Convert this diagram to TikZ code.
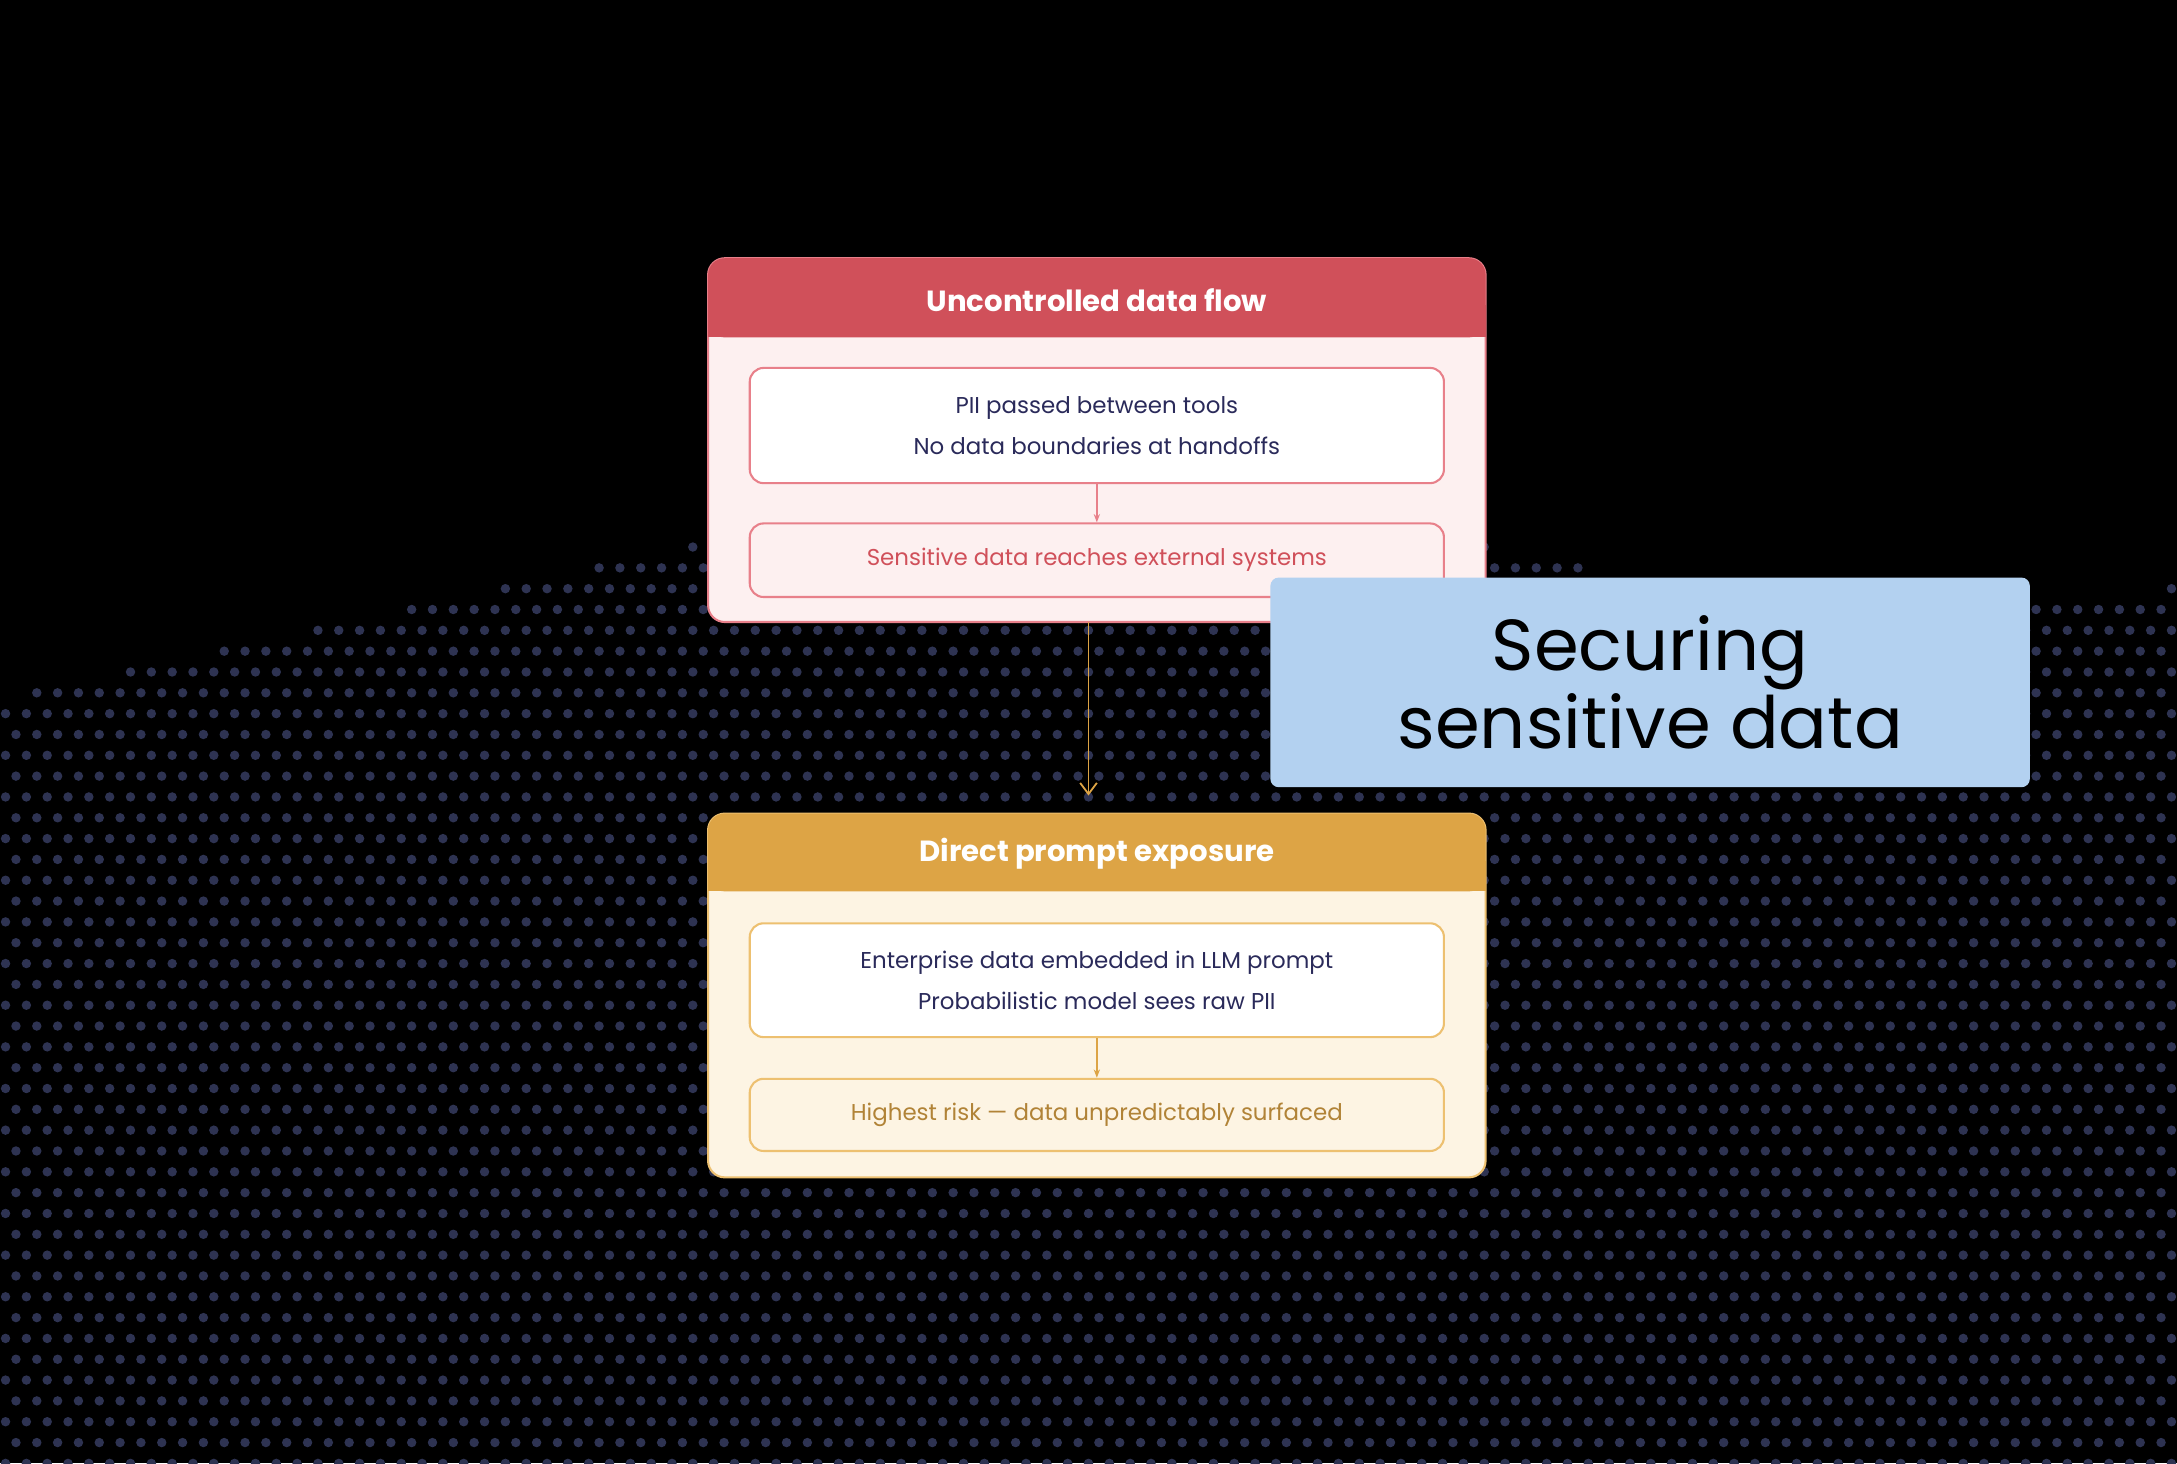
\documentclass[tikz,border=0pt]{standalone}
\usepackage{fontspec}
\setmainfont{Poppins}
\usetikzlibrary{arrows.meta}
\definecolor{bg}{HTML}{000000}
\definecolor{red1}{HTML}{D0505A}
\definecolor{redbody}{HTML}{FDF0F0}
\definecolor{redline}{HTML}{E8808A}
\definecolor{org}{HTML}{DDA445}
\definecolor{orgbody}{HTML}{FDF4E3}
\definecolor{orgline}{HTML}{EDC070}
\definecolor{navy}{HTML}{2A2A5A}
\definecolor{blueb}{HTML}{B3D1F0}
\definecolor{dotc}{HTML}{2E3352}
\tikzset{
  hdr/.style={font=\fontsize{21}{24}\selectfont\bfseries, text=white},
  body/.style={font=\fontsize{16.5}{30}\selectfont, text=navy, align=center},
}
\begin{document}
\begin{tikzpicture}[x=1pt,y=-1pt]
\fill[bg] (0,0) rectangle (1568,1054);
\useasboundingbox (0,0) rectangle (1568,1054);
% dotted background
\foreach \i in {0,...,104}{\foreach \j in {0,...,70}{
  \pgfmathsetmacro\xx{\i*15+4+mod(\j,2)*7.5}\pgfmathsetmacro\yy{\j*15+4}
  \pgfmathsetmacro\v{(\yy-330-0.22*abs(\xx-780)+0.25*max(\xx-1250,0)) }
  \ifdim \v pt>0pt \fill[dotc] (\xx,\yy) circle (3.4);\fi
}}
% top card
\fill[redbody,draw=redline,line width=1.5,rounded corners=12] (510,186) rectangle (1070,448);
\fill[red1,rounded corners=12] (510,186) rectangle (1070,243);
\fill[red1] (510,220) rectangle (1070,243);
\node[hdr] (h1) at (790,216) {Uncontrolled data flow};
\node[draw=redline,fill=white,line width=1.5,rounded corners=10,minimum width=500,minimum height=83,body] (a1) at (790,306.5) {PII passed between tools\\No data boundaries at handoffs};
\node[draw=redline,fill=redbody,line width=1.5,rounded corners=10,minimum width=500,minimum height=53,body,text=red1] (a2) at (790,403.5) {Sensitive data reaches external systems};
\draw[redline,line width=1.2,-{Stealth[length=6,open]}] (a1.south) -- (a2.north);
% bottom card
\fill[orgbody,draw=orgline,line width=1.5,rounded corners=12] (510,586) rectangle (1070,848);
\fill[org,rounded corners=12] (510,586) rectangle (1070,642);
\fill[org] (510,620) rectangle (1070,642);
\node[hdr] (h2) at (790,615) {Direct prompt exposure};
\node[draw=orgline,fill=white,line width=1.5,rounded corners=10,minimum width=500,minimum height=82,body] (b1) at (790,706) {Enterprise data embedded in LLM prompt\\Probabilistic model sees raw PII};
\node[draw=orgline,fill=orgbody,line width=1.5,rounded corners=10,minimum width=500,minimum height=52,body,text=org!80!black] (b2) at (790,803) {Highest risk — data unpredictably surfaced};
\draw[org,line width=1.2,-{Stealth[length=6,open]}] (b1.south) -- (b2.north);
% connector
\coordinate (c1) at (784,448);
\coordinate (c2) at (784,573);
\draw[org,line width=1.3,-{Straight Barb[length=8,width=12]}] (c1) -- (c2);
% title
\node[fill=blueb,rounded corners=6,minimum width=547,minimum height=151,font=\fontsize{52}{52}\selectfont,align=center,text=black] (t) at (1188.5,491.5) {Securing\\[2pt]sensitive data};
\end{tikzpicture}
\end{document}
